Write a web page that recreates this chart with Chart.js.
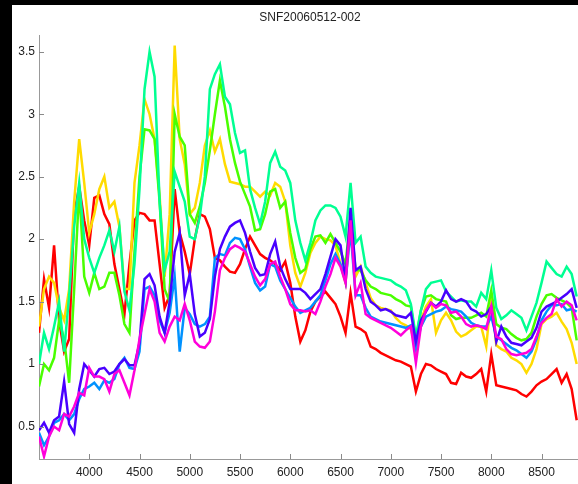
<!DOCTYPE html>
<html>
<head>
<meta charset="utf-8">
<script src="https://cdn.jsdelivr.net/npm/chart.js@4.4.1/dist/chart.umd.min.js"></script>
<style>
  html, body { margin: 0; padding: 0; background: #fff; }
  #wrap { width: 578px; height: 484px; }
</style>
</head>
<body>
<div id="wrap"><canvas id="spec" width="578" height="484"></canvas></div>
<script>
// --- data ---
const titleText = 'SNF20060512-002';
const wavelength = [3500,3550,3600,3650,3700,3750,3800,3850,3900,3950,4000,4050,4100,4150,4200,4250,4300,4350,4400,4450,
  4500,4550,4600,4650,4700,4750,4800,4850,4900,4950,5000,5050,5100,5150,5200,5250,5300,5350,5400,5450,
  5500,5550,5600,5650,5700,5750,5800,5850,5900,5950,6000,6050,6100,6150,6200,6250,6300,6350,6400,6450,
  6500,6550,6600,6650,6700,6750,6800,6850,6900,6950,7000,7050,7100,7150,7200,7250,7300,7350,7400,7450,
  7500,7550,7600,7650,7700,7750,7800,7850,7900,7950,8000,8050,8100,8150,8200,8250,8300,8350,8400,8450,
  8500,8550,8600,8650,8700,8750,8800,8850];

const red = [1.25,1.68,1.45,1.95,1.35,1.1,1.2,2.2,2.42,2.15,
  1.95,2.33,2.35,2.2,2.12,1.8,1.6,1.4,1.8,2.15,
  2.21,2.2,2.15,2.15,1.8,1.45,1.55,2.4,2.05,1.9,
  1.72,2.0,2.2,2.18,2.08,1.85,1.83,1.78,1.74,1.73,
  1.8,1.92,2.02,1.95,1.88,1.85,1.83,1.8,1.75,1.82,
  1.65,1.38,1.18,1.27,1.42,1.5,1.54,1.58,1.53,1.48,
  1.38,1.25,1.57,1.3,1.28,1.25,1.14,1.12,1.09,1.07,
  1.05,1.03,1.02,1.0,0.98,0.78,0.92,1.0,0.99,0.96,
  0.94,0.92,0.85,0.84,0.93,0.9,0.89,0.92,0.96,0.78,
  1.08,0.83,0.82,0.81,0.8,0.79,0.76,0.74,0.78,0.83,
  0.86,0.88,0.92,0.96,0.85,0.92,0.8,0.55];

const yellow = [1.3,1.6,1.7,1.65,1.45,1.35,1.6,2.3,2.8,2.45,
  2.05,2.2,2.4,2.5,2.25,2.3,2.1,1.6,1.6,2.45,
  2.75,3.12,3.0,2.8,2.35,1.7,2.2,3.55,2.8,2.6,
  2.2,2.25,2.45,2.75,2.87,2.7,2.8,2.6,2.46,2.45,
  2.44,2.42,2.42,2.38,2.34,2.38,2.35,2.45,2.42,2.3,
  1.95,1.73,1.62,1.73,1.89,1.97,2.02,2.0,1.99,1.95,
  1.8,1.65,2.15,1.7,1.78,1.65,1.53,1.47,1.45,1.44,
  1.43,1.37,1.33,1.31,1.28,1.13,1.35,1.46,1.52,1.25,
  1.35,1.41,1.35,1.26,1.22,1.24,1.27,1.3,1.3,1.14,
  1.55,1.15,1.12,1.1,1.05,1.03,1.0,0.93,1.0,1.12,
  1.32,1.36,1.38,1.41,1.34,1.28,1.17,1.0];

const lime = [0.82,1.0,0.95,1.05,1.35,1.2,0.85,1.6,2.4,1.7,
  1.57,1.73,1.6,1.62,1.73,1.73,1.55,1.32,1.25,1.9,
  2.5,2.88,2.87,2.8,2.3,1.6,1.5,3.0,2.82,2.75,
  2.2,2.13,2.26,2.45,2.71,3.0,3.27,3.06,2.8,2.61,
  2.46,2.36,2.26,2.07,2.08,2.2,2.38,2.4,2.25,2.3,
  2.05,1.85,1.73,1.76,1.92,2.02,2.03,1.97,2.04,1.97,
  1.9,1.8,2.18,1.75,1.75,1.67,1.62,1.6,1.57,1.56,
  1.55,1.52,1.5,1.47,1.46,1.19,1.43,1.54,1.55,1.52,
  1.51,1.5,1.39,1.36,1.37,1.37,1.37,1.39,1.41,1.38,
  1.59,1.32,1.29,1.28,1.24,1.21,1.19,1.2,1.25,1.38,
  1.48,1.55,1.56,1.53,1.51,1.49,1.45,1.19];

const teal = [1.0,1.25,1.12,1.3,1.5,1.1,1.55,2.1,2.45,2.0,
  1.85,1.73,1.85,1.95,2.07,1.9,2.1,1.58,1.43,1.8,
  2.4,3.2,3.5,3.3,2.3,1.75,1.9,2.54,2.42,2.3,
  2.02,2.0,2.18,2.5,3.2,3.32,3.4,3.14,3.08,2.85,
  2.69,2.71,2.4,2.25,2.12,2.3,2.61,2.7,2.58,2.55,
  2.45,2.15,1.97,1.83,1.97,2.15,2.23,2.27,2.27,2.25,
  2.18,2.02,2.45,1.97,2.02,1.78,1.73,1.7,1.69,1.68,
  1.67,1.64,1.62,1.59,1.48,1.22,1.43,1.6,1.65,1.66,
  1.67,1.58,1.54,1.5,1.51,1.5,1.5,1.46,1.57,1.52,
  1.75,1.45,1.36,1.39,1.43,1.4,1.37,1.27,1.38,1.49,
  1.65,1.82,1.77,1.72,1.7,1.78,1.72,1.54];

const azure = [0.45,0.35,0.42,0.53,0.55,0.6,0.55,0.6,0.72,0.8,
  0.82,0.85,0.8,0.87,0.85,0.88,1.0,1.05,0.97,0.96,
  1.1,1.6,1.62,1.55,1.35,1.25,1.41,1.7,1.1,1.45,
  1.4,1.32,1.3,1.32,1.38,1.85,1.88,1.87,1.97,2.01,
  2.0,1.92,1.78,1.65,1.59,1.62,1.8,1.78,1.67,1.6,
  1.53,1.46,1.41,1.43,1.45,1.5,1.55,1.67,1.8,1.88,
  1.8,1.66,2.07,1.55,1.55,1.45,1.38,1.36,1.34,1.33,
  1.32,1.31,1.3,1.29,1.31,1.12,1.3,1.38,1.4,1.42,
  1.43,1.46,1.44,1.43,1.42,1.38,1.33,1.31,1.3,1.3,
  1.38,1.22,1.19,1.16,1.13,1.11,1.08,1.05,1.1,1.2,
  1.35,1.42,1.47,1.47,1.48,1.43,1.44,1.42];

const violet = [0.47,0.53,0.45,0.55,0.58,0.86,0.52,0.45,0.8,1.0,
  0.95,0.9,0.96,0.97,0.92,0.94,1.0,1.04,0.99,0.99,
  1.17,1.68,1.72,1.63,1.38,1.25,1.5,1.9,2.05,1.55,
  1.72,1.4,1.22,1.25,1.36,1.7,1.92,2.02,2.1,2.13,
  2.15,2.05,1.9,1.77,1.71,1.72,1.88,1.98,1.78,1.68,
  1.6,1.6,1.6,1.57,1.52,1.56,1.6,1.72,1.86,2.0,
  1.95,1.68,2.25,1.75,1.78,1.6,1.5,1.47,1.43,1.44,
  1.42,1.39,1.38,1.37,1.41,1.18,1.35,1.42,1.49,1.46,
  1.5,1.59,1.52,1.5,1.52,1.5,1.44,1.42,1.38,1.4,
  1.46,1.18,1.3,1.22,1.17,1.16,1.15,1.18,1.21,1.29,
  1.42,1.46,1.48,1.5,1.53,1.56,1.6,1.45];

const magenta = [0.42,0.26,0.42,0.5,0.47,0.6,0.58,0.66,0.77,0.75,
  0.97,0.9,0.9,0.88,0.78,0.92,0.95,0.85,0.75,0.95,
  1.2,1.4,1.6,1.5,1.25,1.18,1.3,1.38,1.35,1.48,
  1.35,1.18,1.14,1.13,1.18,1.42,1.75,1.85,1.92,1.95,
  1.93,1.9,1.8,1.7,1.63,1.68,1.8,1.82,1.7,1.6,
  1.48,1.43,1.43,1.42,1.43,1.4,1.5,1.62,1.72,1.85,
  1.78,1.65,2.15,1.55,1.65,1.4,1.37,1.35,1.33,1.31,
  1.29,1.26,1.23,1.27,1.3,1.01,1.3,1.43,1.49,1.45,
  1.48,1.47,1.41,1.42,1.38,1.32,1.3,1.31,1.3,1.28,
  1.46,1.22,1.2,1.12,1.08,1.07,1.08,1.09,1.12,1.22,
  1.33,1.37,1.4,1.52,1.46,1.5,1.47,1.35];

const xTicks = [4000,4500,5000,5500,6000,6500,7000,7500,8000,8500];
const yTicks = [0.5,1,1.5,2,2.5,3,3.5];

// --- chart ---
const FONT = '"Liberation Sans", Arial, Helvetica, sans-serif';
const series = [
  { data: red, color: '#ff0000' },
  { data: yellow, color: '#ffdb00' },
  { data: lime, color: '#49ff00' },
  { data: teal, color: '#00ff92' },
  { data: azure, color: '#0092ff' },
  { data: violet, color: '#4900ff' },
  { data: magenta, color: '#ff00db' }
];

// chart.js draws dataset 0 on top, so the last plotted (magenta) goes first
const datasets = series.slice().reverse().map(s => ({
  data: wavelength.map((w, i) => ({ x: w, y: s.data[i] })),
  borderColor: s.color,
  borderWidth: 2.5,
  pointRadius: 0,
  tension: 0,
  fill: false
}));

const frame = {
  id: 'frame',
  beforeDraw(chart) {
    const c = chart.ctx;
    c.save();
    c.fillStyle = '#fff';
    c.fillRect(0, 0, chart.width, chart.height);
    c.fillStyle = '#000';
    c.fillRect(0, 0, chart.width, 5);
    c.fillRect(0, 0, 12, chart.height);
    c.restore();
  }
};

// matlab style inward ticks + title
const axesExtras = {
  id: 'axesExtras',
  afterDraw(chart) {
    const { ctx, chartArea: a, scales: { x, y } } = chart;
    ctx.save();
    ctx.strokeStyle = '#8a8a8a';
    ctx.lineWidth = 1;
    ctx.beginPath();
    yTicks.forEach(v => {
      const p = Math.round(y.getPixelForValue(v)) + 0.5;
      ctx.moveTo(a.left, p); ctx.lineTo(a.left + 5, p);
    });
    xTicks.forEach(v => {
      const p = Math.round(x.getPixelForValue(v)) + 0.5;
      ctx.moveTo(p, a.bottom); ctx.lineTo(p, a.bottom - 5);
    });
    ctx.stroke();
    ctx.fillStyle = '#222';
    ctx.font = '12px ' + FONT;
    ctx.textAlign = 'center';
    ctx.textBaseline = 'middle';
    ctx.fillText(titleText, 310, 18);
    ctx.restore();
  }
};

new Chart(document.getElementById('spec'), {
  type: 'line',
  data: { datasets },
  options: {
    responsive: false,
    animation: false,
    layout: { padding: { top: 35, right: 0, left: 0, bottom: 0 } },
    plugins: { legend: { display: false }, tooltip: { enabled: false }, title: { display: false } },
    scales: {
      x: {
        type: 'linear', min: 3500, max: 8863,
        afterBuildTicks: s => { s.ticks = xTicks.map(v => ({ value: v })); },
        afterFit: s => { s.height = 25; },
        grid: { display: false, drawTicks: false },
        border: { display: true, color: '#999', width: 1 },
        ticks: { padding: 6, color: '#222', font: { size: 12, family: FONT }, maxRotation: 0, autoSkip: false, callback: v => String(v) }
      },
      y: {
        type: 'linear', min: 0.24, max: 3.634,
        afterBuildTicks: s => { s.ticks = yTicks.map(v => ({ value: v })); },
        afterFit: s => { s.width = 39; },
        grid: { display: false, drawTicks: false },
        border: { display: true, color: '#999', width: 1 },
        ticks: { padding: 4, color: '#222', font: { size: 12, family: FONT }, callback: v => String(v) }
      }
    }
  },
  plugins: [frame, axesExtras]
});
</script>
</body>
</html>
